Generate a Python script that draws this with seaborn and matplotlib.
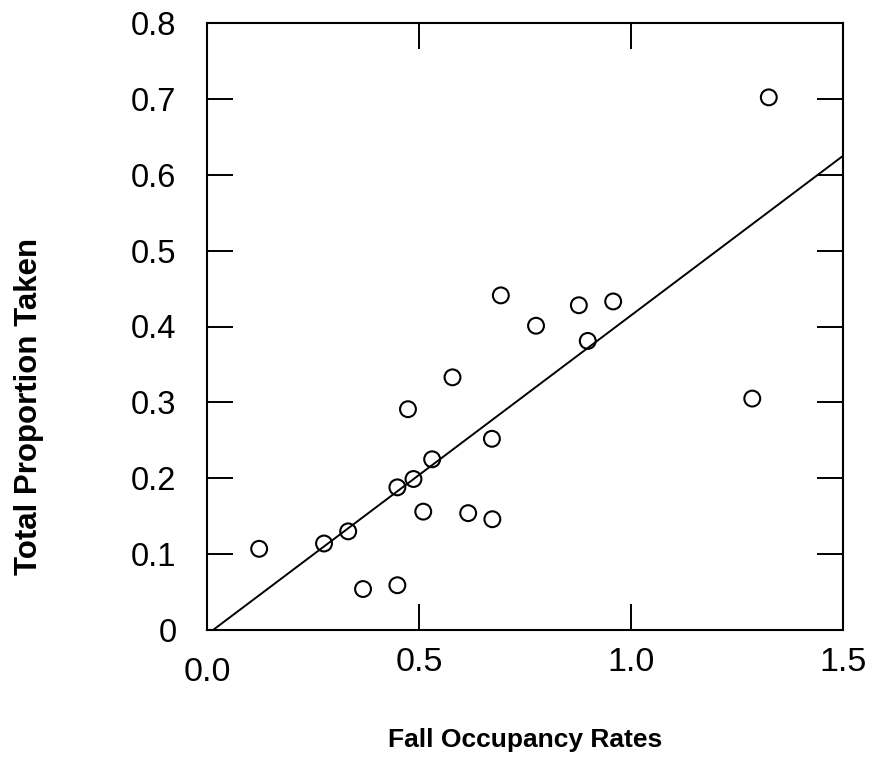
import numpy as np
import matplotlib
matplotlib.use("Agg")
import matplotlib.pyplot as plt
import matplotlib.transforms as mtransforms
import seaborn as sns

# Fall occupancy rate vs. total proportion taken
occupancy = [0.123, 0.276, 0.333, 0.449, 0.487, 0.531, 0.510, 0.616, 0.673,
             0.368, 0.449, 0.474, 0.579, 0.672, 0.693, 0.776, 0.877, 0.958,
             0.898, 1.286, 1.325]
proportion = [0.107, 0.114, 0.130, 0.188, 0.199, 0.225, 0.156, 0.154, 0.146,
              0.054, 0.059, 0.291, 0.333, 0.252, 0.441, 0.401, 0.428, 0.433,
              0.381, 0.305, 0.702]

# fitted straight line
fit_intercept = -0.006
fit_slope = 0.4206

x_ticks = [0.0, 0.5, 1.0, 1.5]
x_tick_labels = ["0.0", "0.5", "1.0", "1.5"]
y_ticks = [0.0, 0.1, 0.2, 0.3, 0.4, 0.5, 0.6, 0.7, 0.8]
y_tick_labels = ["0", "0.1", "0.2", "0.3", "0.4", "0.5", "0.6", "0.7", "0.8"]

sns.set_theme(style="ticks")
plt.rcParams["font.family"] = ["Liberation Sans", "DejaVu Sans"]
plt.rcParams["text.color"] = "black"
plt.rcParams["axes.labelcolor"] = "black"

fig = plt.figure(figsize=(8.72, 7.59), dpi=100)
ax = fig.add_axes([207 / 872, 1 - 630 / 759, 636 / 872, 607 / 759])

line_x = np.array([0.0, 1.5])
sns.lineplot(x=line_x, y=fit_intercept + fit_slope * line_x, color="black",
             linewidth=1.4, ax=ax)
sns.scatterplot(x=occupancy, y=proportion, marker="o", s=130,
                facecolor="none", edgecolor="black", linewidth=1.5,
                ax=ax, zorder=3)

ax.set_xlim(0, 1.5)
ax.set_ylim(0, 0.8)
ax.set_xticks(x_ticks)
ax.set_xticklabels(x_tick_labels)
ax.set_yticks(y_ticks)
ax.set_yticklabels(y_tick_labels)

for spine in ax.spines.values():
    spine.set_linewidth(1.5)
    spine.set_color("black")

ax.tick_params(direction="in", length=19, width=1.4, top=True, right=True,
               colors="black")
ax.tick_params(axis="x", pad=12.5, labelsize=24.5)
ax.tick_params(axis="y", pad=22, labelsize=23.5)

# the origin label sits a little lower than the others
first = ax.get_xticklabels()[0]
first.set_transform(first.get_transform() +
                    mtransforms.ScaledTranslation(0, -10 / 100, fig.dpi_scale_trans))

ax.set_xlabel("Fall Occupancy Rates", fontsize=19, fontweight="bold")
ax.set_ylabel("Total Proportion Taken", fontsize=22.5, fontweight="bold")
ax.xaxis.set_label_coords(0.5, -0.162)
ax.yaxis.set_label_coords(-0.257, 0.368)

fig.savefig("out.png", dpi=100)
